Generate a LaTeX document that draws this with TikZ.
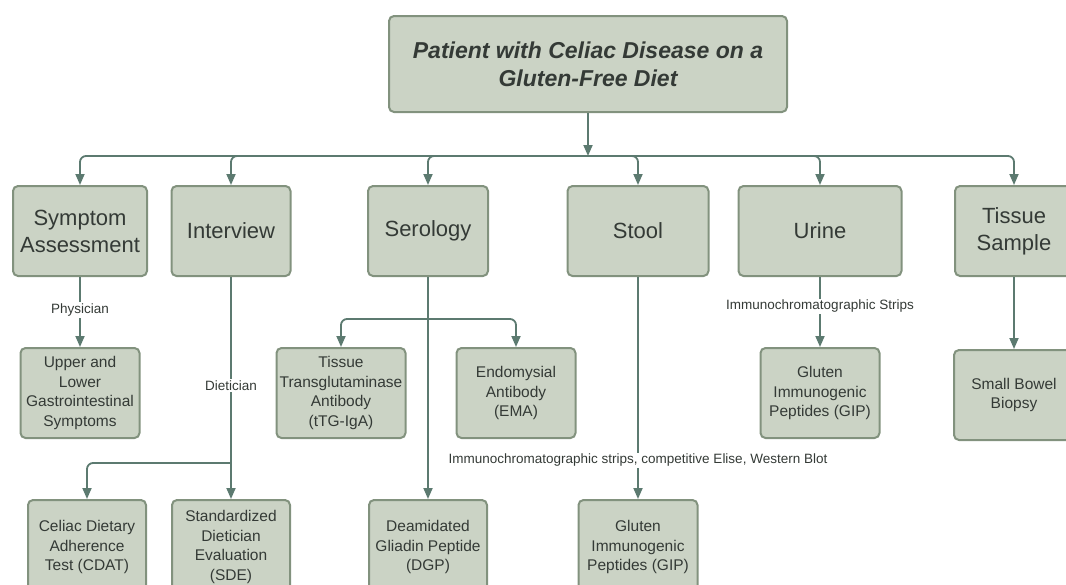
\documentclass[tikz,border=0pt]{standalone}
\usepackage{fontspec}
\setmainfont{Liberation Sans}
\usetikzlibrary{calc, positioning, arrows.meta}

\definecolor{box-fill}{RGB}{203,211,197}
\definecolor{box-line}{RGB}{130,146,126}
\definecolor{flow-line}{RGB}{92,122,112}
\definecolor{box-text}{RGB}{52,58,54}

\tikzset{
  box/.style={draw=box-line, fill=box-fill, line width=2pt, rounded corners=5pt,
    text=box-text, align=center, inner sep=0pt},
  big-box/.style={box, font=\fontsize{22}{27}\selectfont, minimum height=90pt},
  small-box/.style={box, font=\fontsize{15.5}{19.5}\selectfont, minimum width=119pt, minimum height=90pt},
  flow/.style={draw=flow-line, line width=1.8pt, -{Triangle[length=11pt,width=9pt]}},
  edge-text/.style={fill=white, text=box-text, font=\fontsize{13.5}{15}\selectfont, inner sep=1.5pt},
}

\begin{document}
\begin{tikzpicture}[x=1pt, y=-1pt]

  \useasboundingbox (0,0) rectangle (1066,584);
  \clip (0,0) rectangle (1066,584);

  % top box
  \node[box, font=\fontsize{23}{28}\selectfont\bfseries\itshape, minimum width=398pt, minimum height=96pt]
    (patient) at (588,64) {Patient with Celiac Disease on a\\Gluten-Free Diet};

  % first row
  \node[big-box, minimum width=134pt] (symptom)   at (80,231)   {Symptom\\Assessment};
  \node[big-box, minimum width=119pt] (interview) at (231,231)  {Interview};
  \node[big-box, minimum width=120pt] (serology)  at (428,231)  {Serology};
  \node[big-box, minimum width=141pt] (stool)     at (638,231)  {Stool};
  \node[big-box, minimum width=163pt] (urine)     at (820,231)  {Urine};
  \node[big-box, minimum width=118pt] (tissue)    at (1014,231) {Tissue\\Sample};

  % second row
  \node[small-box]                      (gi-symptoms) at (80,393)   {Upper and\\Lower\\Gastrointestinal\\Symptoms};
  \node[small-box, minimum width=129pt] (ttg)         at (341,393)  {Tissue\\Transglutaminase\\Antibody\\(tTG-IgA)};
  \node[small-box]                      (ema)         at (516,393)  {Endomysial\\Antibody\\(EMA)};
  \node[small-box]                      (gip-urine)   at (820,393)  {Gluten\\Immunogenic\\Peptides (GIP)};
  \node[small-box, minimum width=120pt] (biopsy)      at (1014,395) {Small Bowel\\Biopsy};

  % third row
  \node[small-box, minimum width=118pt, minimum height=94pt] (cdat)      at (87,547)  {Celiac Dietary\\Adherence\\Test (CDAT)};
  \node[small-box, minimum width=118pt, minimum height=94pt] (sde)       at (231,547) {Standardized\\Dietician\\Evaluation\\(SDE)};
  \node[small-box, minimum width=118pt, minimum height=94pt] (dgp)       at (428,547) {Deamidated\\Gliadin Peptide\\(DGP)};
  \node[small-box, minimum width=119pt, minimum height=94pt] (gip-stool) at (638,547) {Gluten\\Immunogenic\\Peptides (GIP)};

  % bus under the top box
  \coordinate (bus-mid) at (588,156);
  \draw[flow] (patient.south) to (bus-mid);
  \foreach \child in {symptom, interview, serology, stool, urine, tissue}
    \draw[flow, rounded corners=6pt] (bus-mid) -| (\child.north);

  % symptom assessment
  \draw[flow] (symptom.south) to node[edge-text, pos=0.47] {Physician} (gi-symptoms.north);

  % interview
  \coordinate (interview-split) at (231,463);
  \draw[flow] (interview.south) to node[edge-text, pos=0.49] {Dietician} (sde.north);
  \draw[flow, rounded corners=6pt] (interview-split) -| (cdat.north);

  % serology
  \coordinate (serology-split) at (428,319);
  \draw[flow] (serology.south) to (dgp.north);
  \draw[flow, rounded corners=6pt] (serology-split) -| (ttg.north);
  \draw[flow, rounded corners=6pt] (serology-split) -| (ema.north);

  % stool, urine, tissue
  \draw[flow] (stool.south) to node[edge-text, pos=0.826] {Immunochromatographic strips, competitive Elise, Western Blot} (gip-stool.north);
  \draw[flow] (urine.south) to node[edge-text, pos=0.42] {Immunochromatographic Strips} (gip-urine.north);
  \draw[flow] (tissue.south) to (biopsy.north);

\end{tikzpicture}
\end{document}
